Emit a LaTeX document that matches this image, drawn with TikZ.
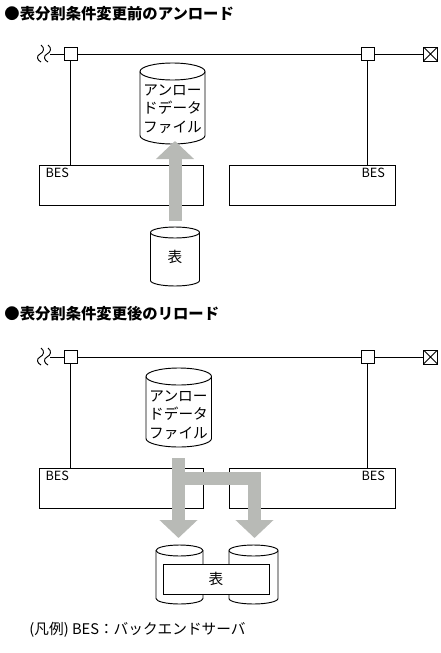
\documentclass[tikz,border=0pt]{standalone}
\usepackage{fontspec}
\setmainfont{Noto Sans CJK JP}
\usetikzlibrary{arrows.meta,positioning}

\definecolor{flowgray}{RGB}{184,186,182}

% drum: left x, top y, width, height, ry, name
\newcommand{\drum}[6]{%
  \draw[fill=white] (#1,#2+#5) -- (#1,#2+#4-#5)
    arc[start angle=180,end angle=0,x radius=#3/2,y radius=#5]
    -- (#1+#3,#2+#5)
    arc[start angle=0,end angle=-180,x radius=#3/2,y radius=#5] -- cycle;
  \draw (#1,#2+#5) arc[start angle=180,end angle=0,x radius=#3/2,y radius=#5];
  \coordinate (#6-top) at (#1+#3/2,#2);
  \coordinate (#6-bot) at (#1+#3/2,#2+#4);
}

% bus line with the two BES
\newcommand{\backbone}{%
  \node[port] (pl) at (70.5,54) {};
  \node[port] (pr) at (367.5,54) {};
  \node[term] (end) at (430.5,54) {};
  \coordinate (cut) at (50,54);
  \draw (cut) -- (pl) -- (pr) -- (end);
  \draw (41,45) .. controls (45,48) and (44,52) .. (40,54) .. controls (36,56) and (37,60) .. (41,62);
  \draw (48,45) .. controls (52,48) and (51,52) .. (47,54) .. controls (43,56) and (44,60) .. (48,62);
  \node[besbox,minimum width=123pt] (bl) at (121.5,185) {};
  \node[besbox,minimum width=124.5pt] (br) at (312,185) {};
  \node[beslabel,anchor=west] (bll) at ([shift={(6,8)}]bl.north west) {BES};
  \node[beslabel,anchor=east] (brl) at ([shift={(-10,8)}]br.north east) {BES};
  \draw (pl) -- (pl |- bl.north);
  \draw (pr) -- (pr |- br.north);
}

\begin{document}
\begin{tikzpicture}[x=0.75pt,y=-0.75pt,line width=0.7pt,
  port/.style={draw,fill=white,minimum size=9.75pt,inner sep=0pt},
  term/.style={port,minimum size=10.5pt,path picture={
    \draw (path picture bounding box.north west) -- (path picture bounding box.south east)
          (path picture bounding box.south west) -- (path picture bounding box.north east);}},
  besbox/.style={draw,minimum height=30pt,inner sep=0pt},
  beslabel/.style={font=\fontsize{9.5}{11}\selectfont,inner sep=0pt},
  jp/.style={font=\fontsize{11}{14}\selectfont,align=center,inner sep=0pt},
  heading/.style={font=\bfseries\fontsize{11.5}{14}\selectfont,anchor=west,inner sep=0pt},
  flow/.style={flowgray,line width=9.75pt,line join=miter,-{Triangle[width=27.75pt,length=13.5pt]}}]

\useasboundingbox (0,0) rectangle (440,653);

% before
\node[heading] (title1) at (4,14) {●表分割条件変更前のアンロード};
\begin{scope}[name prefix=up-]
\backbone
\drum{140}{63}{65}{81}{8.5}{file}
\node[jp] (file) at (172.5,109) {アンロー\\ドデータ\\ファイル};
\drum{150.5}{227}{49}{59}{5.5}{tbl}
\node[jp] (tbl) at (175,257) {表};
\draw[flow] ([yshift=4.5pt]tbl-top) -- ([yshift=2.25pt]tbl-top |- file-bot);
\end{scope}

% after
\node[heading] (title2) at (4,314) {●表分割条件変更後のリロード};
\begin{scope}[shift={(0,303)},name prefix=dn-]
\backbone
\drum{146}{65}{65.5}{79}{8.5}{file}
\node[jp] (file) at (178.5,112) {アンロー\\ドデータ\\ファイル};
\drum{156}{242}{47}{59}{5.5}{lt}
\drum{229}{242}{49}{59}{5.5}{rt}
\node[draw,fill=white,jp,minimum width=79.5pt,minimum height=22.5pt] (tbl) at (216,276) {表};
\coordinate (split) at (178.5,175.5);
\draw[flow] ([yshift=-8.25pt]file-bot -| split) -- ([yshift=5.25pt]lt-top -| split);
\draw[flow] (split) -- (split -| 254.5,0) -- ([yshift=5.25pt]lt-top -| 254.5,0);
\end{scope}

\node[jp,anchor=west] (legend) at (29,630) {(凡例) BES：バックエンドサーバ};
\end{tikzpicture}
\end{document}
